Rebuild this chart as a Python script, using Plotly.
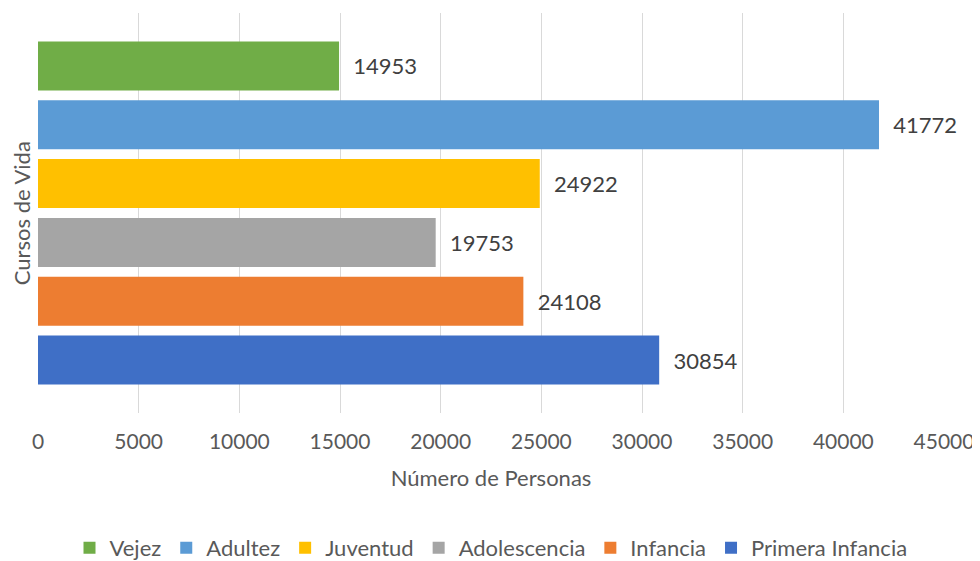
import plotly.graph_objects as go

categories = ["Primera Infancia", "Infancia", "Adolescencia", "Juventud", "Adultez", "Vejez"]
values = [30854, 24108, 19753, 24922, 41772, 14953]
colors = ["#3F6FC6", "#ED7D31", "#A5A5A5", "#FFC000", "#5B9BD5", "#70AD47"]
tick_vals = [0, 5000, 10000, 15000, 20000, 25000, 30000, 35000, 40000, 45000]
y_title = "Cursos de Vida"
x_title = "Número de Personas"

FONT = "Lato"
TXT = "#595959"
FS = 22

fig = go.Figure()
for name, v, c in zip(categories, values, colors):
    fig.add_trace(go.Bar(
        name=name,
        x=[v],
        y=[y_title],
        orientation="h",
        marker=dict(color=c, line=dict(width=0)),
        text=["\u00a0\u00a0" + str(v)],
        textposition="outside",
        textfont=dict(family=FONT, size=FS, color="#404040"),
        cliponaxis=False,
    ))

# page body has an 8px default margin, so the figure is sized to fit the window
fig.update_layout(
    width=972, height=553,
    margin=dict(l=30, r=36, t=5, b=148, autoexpand=False),
    paper_bgcolor="white", plot_bgcolor="white",
    barmode="group",
    bargap=0.1175,
    bargroupgap=0.167,
    font=dict(family=FONT, size=FS, color=TXT),
    showlegend=True,
    legend=dict(
        orientation="h",
        traceorder="reversed",
        x=0.5, xanchor="center",
        y=-0.285, yanchor="top",
        font=dict(family=FONT, size=FS, color=TXT),
        itemwidth=30,
    ),
    xaxis=dict(
        range=[0, 45000],
        tickvals=tick_vals,
        ticktext=[str(t) for t in tick_vals],
        showgrid=True, gridcolor="#D9D9D9", gridwidth=1.3,
        zeroline=False, showline=False,
        ticks="", ticklabelstandoff=14,
        automargin=False,
        tickfont=dict(family=FONT, size=21, color=TXT),
        title=dict(text=x_title, font=dict(family=FONT, size=FS, color=TXT), standoff=18),
    ),
    yaxis=dict(
        showticklabels=False,
        showgrid=False, zeroline=False, showline=False, ticks="",
        automargin=False,
    ),
    annotations=[dict(
        text=y_title, textangle=-90,
        xref="paper", yref="paper", x=-0.0185, y=0.5,
        xanchor="center", yanchor="middle", showarrow=False,
        font=dict(family=FONT, size=FS, color=TXT),
    )],
)

fig.write_html("out.html")
